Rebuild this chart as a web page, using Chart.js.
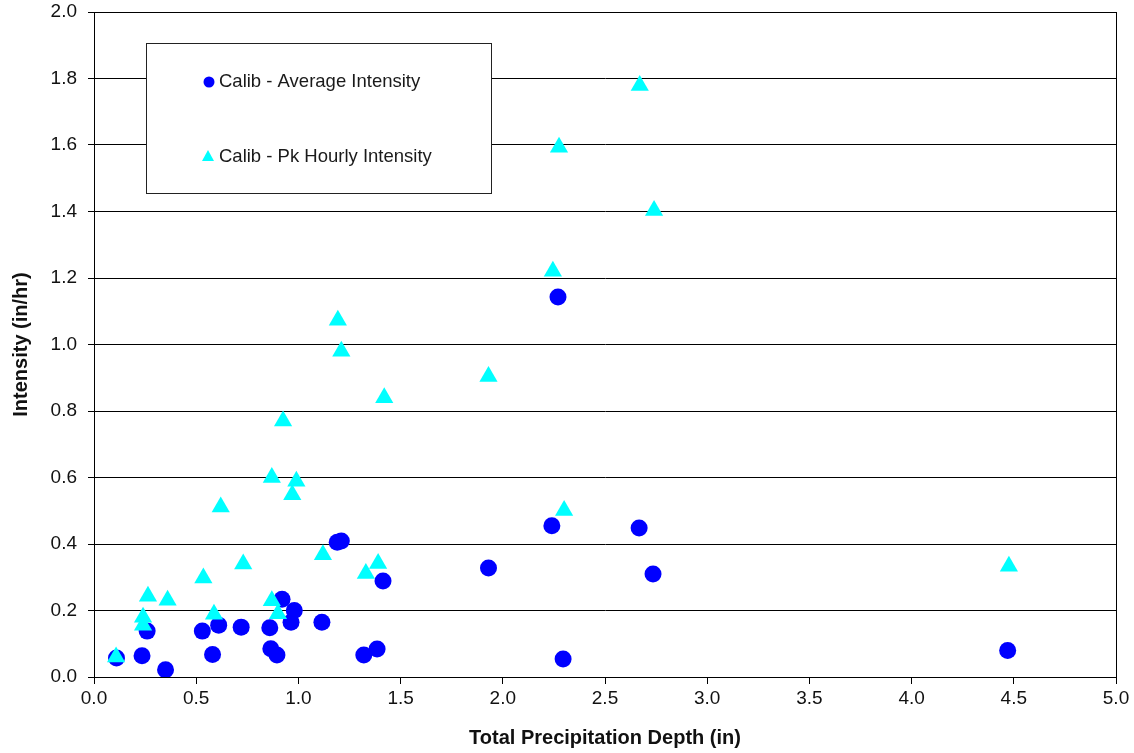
<!DOCTYPE html>
<html>
<head>
<meta charset="utf-8">
<script src="https://cdn.jsdelivr.net/npm/chart.js@4.4.0/dist/chart.umd.min.js"></script>
<style>
  html, body { margin: 0; padding: 0; background: #fff; }
  #wrap { width: 1134px; height: 753px; }
</style>
</head>
<body>
<div id="wrap"><canvas id="myChart" width="1134" height="753"></canvas></div>
<script>
// values
const avgX = [0.11, 0.235, 0.26, 0.35, 0.53, 0.58, 0.61, 0.72, 0.86, 0.865, 0.895, 0.92, 0.964, 0.98, 1.115, 1.19, 1.21, 1.32, 1.385, 1.414, 1.93, 2.24, 2.27, 2.295, 2.667, 2.735, 4.47];
const avgY = [0.057, 0.064, 0.138, 0.022, 0.138, 0.068, 0.156, 0.150, 0.148, 0.085, 0.066, 0.234, 0.165, 0.200, 0.165, 0.405, 0.409, 0.066, 0.084, 0.289, 0.328, 0.455, 1.143, 0.054, 0.448, 0.310, 0.080];
const pkX = [0.108, 0.24, 0.24, 0.264, 0.36, 0.535, 0.587, 0.62, 0.73, 0.87, 0.9, 0.87, 0.925, 0.97, 0.99, 1.12, 1.193, 1.21, 1.33, 1.39, 1.42, 1.93, 2.245, 2.275, 2.3, 2.67, 2.74, 4.476];
const pkY = [0.060, 0.180, 0.156, 0.243, 0.231, 0.298, 0.189, 0.511, 0.340, 0.229, 0.190, 0.600, 0.770, 0.548, 0.589, 0.368, 1.073, 0.980, 0.311, 0.341, 0.840, 0.904, 1.220, 1.593, 0.501, 1.779, 1.403, 0.333];
const seriesNames = ['Calib - Average Intensity', 'Calib - Pk Hourly Intensity'];
const xTitle = 'Total Precipitation Depth (in)';
const yTitle = 'Intensity (in/hr)';

const toPts = (xs, ys) => xs.map((x, i) => ({x: x, y: ys[i]}));
const FONT = '"Liberation Sans", Arial, sans-serif';

// plot frame + boxed legend like the original
const framePlugin = {
  id: 'frame',
  afterDraw(chart) {
    const ctx = chart.ctx;
    const a = chart.chartArea;
    ctx.save();
    ctx.strokeStyle = '#000';
    ctx.lineWidth = 1;
    ctx.strokeRect(a.left + 0.5, a.top + 0.5, a.right - a.left, a.bottom - a.top);

    // legend box
    const bx = 146, by = 43, bw = 345, bh = 150;
    ctx.fillStyle = '#fff';
    ctx.fillRect(bx, by, bw, bh);
    ctx.strokeStyle = '#222';
    ctx.strokeRect(bx + 0.5, by + 0.5, bw, bh);
    ctx.font = '18.5px ' + FONT;
    ctx.textBaseline = 'middle';
    // circle
    ctx.fillStyle = '#0000ff';
    ctx.beginPath();
    ctx.arc(209, 82, 5.5, 0, Math.PI * 2);
    ctx.fill();
    ctx.fillStyle = '#1a1a1a';
    ctx.fillText(seriesNames[0], 219, 82);
    // triangle
    ctx.fillStyle = '#00ffff';
    ctx.beginPath();
    ctx.moveTo(208, 150);
    ctx.lineTo(214, 161);
    ctx.lineTo(202, 161);
    ctx.closePath();
    ctx.fill();
    ctx.fillStyle = '#1a1a1a';
    ctx.fillText(seriesNames[1], 219, 157);
    ctx.restore();
  }
};

var ctx = document.getElementById('myChart').getContext('2d');
var chart = new Chart(ctx, {
  type: 'scatter',
  data: {
    datasets: [
      {
        label: seriesNames[1],
        data: toPts(pkX, pkY),
        pointStyle: 'triangle',
        pointRadius: 10.5,
        backgroundColor: '#00ffff',
        borderColor: '#00ffff',
        borderWidth: 0
      },
      {
        label: seriesNames[0],
        data: toPts(avgX, avgY),
        pointStyle: 'circle',
        pointRadius: 8.5,
        backgroundColor: '#0000ff',
        borderColor: '#0000ff',
        borderWidth: 0
      }
    ]
  },
  options: {
    responsive: false,
    animation: false,
    layout: { padding: { left: 0, top: 12, right: 18, bottom: 0 } },
    plugins: {
      legend: { display: false },
      tooltip: { enabled: false }
    },
    scales: {
      x: {
        type: 'linear',
        min: 0, max: 5,
        afterFit(scale) { scale.height = 76; scale.paddingLeft = 0; scale.paddingRight = 0; },
        ticks: {
          stepSize: 0.5,
          color: '#111',
          padding: 3,
          maxRotation: 0,
          font: { family: FONT, size: 19 },
          callback: v => v.toFixed(1)
        },
        grid: { drawOnChartArea: false, drawTicks: true, tickLength: 7, color: '#000' },
        border: { display: true, color: '#000' },
        title: {
          display: true,
          text: xTitle,
          color: '#111',
          font: { family: FONT, size: 20, weight: 'bold' },
          padding: { top: 0, bottom: 3 }
        }
      },
      y: {
        type: 'linear',
        min: 0, max: 2,
        afterFit(scale) { scale.width = 94; scale.paddingTop = 0; scale.paddingBottom = 0; },
        ticks: {
          stepSize: 0.2,
          color: '#111',
          padding: 11,
          font: { family: FONT, size: 19 },
          callback: v => v.toFixed(1)
        },
        grid: { color: '#000', lineWidth: 1, drawTicks: true, tickLength: 6 },
        border: { display: true, color: '#000' },
        title: {
          display: true,
          text: yTitle,
          color: '#111',
          font: { family: FONT, size: 20, weight: 'bold' },
          padding: { top: 9, bottom: 0 }
        }
      }
    }
  },
  plugins: [framePlugin]
});
</script>
</body>
</html>
